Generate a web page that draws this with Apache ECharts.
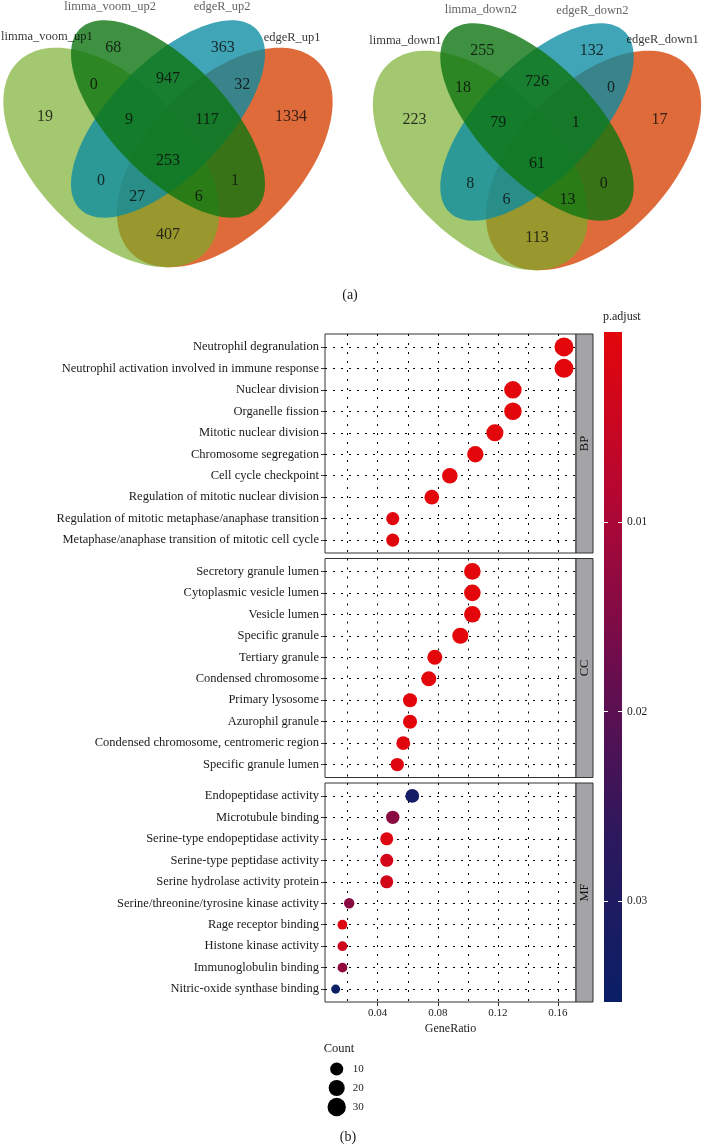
<!DOCTYPE html>
<html>
<head>
<meta charset="UTF-8">
<title>Venn + GO dot plot</title>
<script src="https://cdn.jsdelivr.net/npm/echarts@6/dist/echarts.min.js"></script>
<style>
  html, body { margin: 0; padding: 0; background: #fff; }
  #main { width: 703px; height: 1145px; }
</style>
</head>
<body>
<div id="main"></div>
<script>
// ---------- data: Venn region counts ----------
// region keys: A = set1, B = set2, C = set3, D = set4
var vennRegions = ['A', 'B', 'C', 'D', 'AB', 'AC', 'AD', 'BC', 'BD', 'CD', 'ABC', 'ABD', 'ACD', 'BCD', 'ABCD'];
var upSets = ['limma_voom_up1', 'limma_voom_up2', 'edgeR_up2', 'edgeR_up1'];
var upCounts = [19, 68, 363, 1334, 0, 0, 407, 947, 1, 32, 9, 6, 27, 117, 253];
var downSets = ['limma_down1', 'limma_down2', 'edgeR_down2', 'edgeR_down1'];
var downCounts = [223, 255, 132, 17, 18, 8, 113, 726, 0, 0, 79, 13, 6, 1, 61];

// ---------- data: GO enrichment ----------
var bpTerms = ['Neutrophil degranulation', 'Neutrophil activation involved in immune response', 'Nuclear division',
  'Organelle fission', 'Mitotic nuclear division', 'Chromosome segregation', 'Cell cycle checkpoint',
  'Regulation of mitotic nuclear division', 'Regulation of mitotic metaphase/anaphase transition',
  'Metaphase/anaphase transition of mitotic cell cycle'];
var bpRatio = [0.164, 0.164, 0.130, 0.130, 0.118, 0.105, 0.088, 0.076, 0.050, 0.050];
var bpCount = [33, 33, 26, 26, 24, 21, 18, 15, 10, 10];
var bpPadj = [1e-10, 1e-10, 1e-8, 1e-8, 5e-8, 1e-7, 2e-6, 4e-5, 6e-4, 6e-4];

var ccTerms = ['Secretory granule lumen', 'Cytoplasmic vesicle lumen', 'Vesicle lumen', 'Specific granule',
  'Tertiary granule', 'Condensed chromosome', 'Primary lysosome', 'Azurophil granule',
  'Condensed chromosome, centromeric region', 'Specific granule lumen'];
var ccRatio = [0.103, 0.103, 0.103, 0.095, 0.078, 0.074, 0.0615, 0.0615, 0.057, 0.053];
var ccCount = [22, 22, 22, 20, 16, 16, 13, 13, 12, 11];
var ccPadj = [1e-8, 1e-8, 1e-8, 1e-7, 3e-6, 1e-5, 1e-4, 1e-4, 4e-4, 1e-3];

var mfTerms = ['Endopeptidase activity', 'Microtubule binding', 'Serine-type endopeptidase activity',
  'Serine-type peptidase activity', 'Serine hydrolase activity protein', 'Serine/threonine/tyrosine kinase activity',
  'Rage receptor binding', 'Histone kinase activity', 'Immunoglobulin binding', 'Nitric-oxide synthase binding'];
var mfRatio = [0.063, 0.050, 0.046, 0.046, 0.046, 0.021, 0.0165, 0.0165, 0.0165, 0.012];
var mfCount = [12, 11, 10, 10, 10, 4, 3, 3, 3, 2];
var mfPadj = [0.033, 0.014, 0.001, 0.003, 0.003, 0.014, 0.001, 0.004, 0.013, 0.0353];

var xMajorTicks = [0.04, 0.08, 0.12, 0.16];
var xMinorTicks = [0.02, 0.06, 0.10, 0.14];
var padjTicks = [0.01, 0.02, 0.03];
var countBreaks = [10, 20, 30];

// ---------- layout / style ----------
var FONT = 'Liberation Serif';
var TXT = '#1a1a1a';
// VennDiagram quad layout: cx, cy, a, b, rotation (deg), in unit coords
var vennEllipses = [[0.35, 0.47, 0.35, 0.20, 135], [0.50, 0.57, 0.33, 0.15, 135],
  [0.50, 0.57, 0.33, 0.15, 45], [0.65, 0.47, 0.35, 0.20, 45]];
var vennFill = ['#78ae2b', '#0e7610', '#0a8ca2', '#e06b3a'];
var vennAlpha = [0.68, 0.8, 0.78, 1];
var vennDrawOrder = [3, 0, 2, 1];
var regionPos = {
  A: [0.175, 0.575], B: [0.355, 0.755], C: [0.645, 0.755], D: [0.825, 0.575],
  AB: [0.304, 0.658], CD: [0.696, 0.658], BC: [0.5, 0.674], ABC: [0.397, 0.569],
  BCD: [0.603, 0.569], ABCD: [0.5, 0.461], AC: [0.323, 0.41], BD: [0.677, 0.41],
  ACD: [0.419, 0.368], ABD: [0.581, 0.368], AD: [0.5, 0.269]
};
var upLabelPos = [[0.18, 0.783], [0.347, 0.861], [0.643, 0.861], [0.828, 0.780]];
var downLabelPos = [[0.151, 0.780], [0.351, 0.861], [0.647, 0.858], [0.833, 0.783]];

var PANEL_LEFT = 325, PANEL_W = 251, PANEL_H = 219, STRIP_W = 17;
var panelTops = [334, 558.5, 783];
var X_MIN = 0.0049, X_MAX = 0.172;
var P_MAX = 0.0353;
var padjColors = ['#e3060b', '#b30733', '#6b0d4d', '#2d185d', '#0a1f66'];

function dotSize(count) { return 5.8 + 2.3 * Math.sqrt(count); }

var dottedH = { color: '#000', width: 1, type: [2, 6] };
var dottedV = { color: '#000', width: 1, type: [2, 7] };

var facets = [
  { name: 'BP', terms: bpTerms, ratio: bpRatio, count: bpCount, padj: bpPadj },
  { name: 'CC', terms: ccTerms, ratio: ccRatio, count: ccCount, padj: ccPadj },
  { name: 'MF', terms: mfTerms, ratio: mfRatio, count: mfCount, padj: mfPadj }
];

var grids = [], xAxes = [], yAxes = [], series = [], graphics = [];

// facet panels (grid 0..2)
facets.forEach(function (f, i) {
  var last = i === facets.length - 1;
  grids.push({ left: PANEL_LEFT, top: panelTops[i], width: PANEL_W, height: PANEL_H,
    show: true, borderColor: '#333', borderWidth: 1, backgroundColor: '#fff' });
  var xi = xAxes.length;
  xAxes.push({ gridIndex: i, type: 'value', min: X_MIN, max: X_MAX, position: 'bottom',
    axisLine: { show: false },
    axisTick: { show: last, customValues: xMajorTicks, length: 4, lineStyle: { color: '#333' } },
    axisLabel: { show: last, customValues: xMajorTicks, margin: 6, color: TXT, fontFamily: FONT, fontSize: 11,
      formatter: function (v) { return v.toFixed(2); } },
    splitLine: { show: true, lineStyle: dottedV },
    name: last ? 'GeneRatio' : '', nameLocation: 'middle', nameGap: 21,
    nameTextStyle: { color: TXT, fontFamily: FONT, fontSize: 12 } });
  xAxes.push({ gridIndex: i, type: 'value', min: X_MIN, max: X_MAX, position: 'top',
    axisLine: { show: false }, axisTick: { show: false, customValues: xMinorTicks },
    axisLabel: { show: false }, splitLine: { show: true, lineStyle: dottedV } });
  var rows = f.terms.map(function (t, k) { return k + 1; });
  var yi = yAxes.length;
  yAxes.push({ gridIndex: i, type: 'value', inverse: true, min: 0.4, max: 10.6,
    axisLine: { show: false },
    axisTick: { show: true, length: 4, customValues: rows, lineStyle: { color: '#333' } },
    axisLabel: { customValues: rows, margin: 6, color: TXT, fontFamily: FONT, fontSize: 12.5,
      formatter: function (v) { return f.terms[Math.round(v) - 1]; } },
    splitLine: { show: true, lineStyle: dottedH } });
  series.push({ type: 'scatter', xAxisIndex: xi, yAxisIndex: yi, z: 5,
    data: f.ratio.map(function (r, k) { return [r, k + 1, f.count[k], f.padj[k]]; }),
    symbolSize: function (v) { return dotSize(v[2]); },
    itemStyle: { opacity: 1 } });
  // strip
  var top = panelTops[i];
  graphics.push({ type: 'rect', shape: { x: PANEL_LEFT + PANEL_W, y: top, width: STRIP_W, height: PANEL_H },
    style: { fill: '#a4a4a6', stroke: '#333', lineWidth: 1 } });
  graphics.push({ type: 'text', x: PANEL_LEFT + PANEL_W + STRIP_W / 2 + 0.5, y: top + PANEL_H / 2, rotation: Math.PI / 2,
    style: { text: f.name, fill: '#111', font: '12.5px ' + FONT, align: 'center', verticalAlign: 'middle' } });
});

// Venn diagrams
function addVenn(left, top, sets, counts, labelPos) {
  var g = grids.length;
  grids.push({ left: left, top: top, width: 333, height: 258 });
  var xi = xAxes.length, yi = yAxes.length;
  xAxes.push({ gridIndex: g, type: 'value', min: 0.06, max: 0.94, show: false });
  yAxes.push({ gridIndex: g, type: 'value', min: 0.17, max: 0.84, show: false });
  series.push({ type: 'custom', xAxisIndex: xi, yAxisIndex: yi, silent: true, z: 1,
    data: vennDrawOrder.map(function (s) { return [s]; }),
    renderItem: function (params, api) {
      var s = api.value(0);
      var e = vennEllipses[s];
      var t = e[4] * Math.PI / 180;
      var pts = [];
      for (var k = 0; k < 144; k++) {
        var u = k / 144 * 2 * Math.PI;
        var ex = e[2] * Math.cos(u), ey = e[3] * Math.sin(u);
        pts.push(api.coord([e[0] + ex * Math.cos(t) - ey * Math.sin(t), e[1] + ex * Math.sin(t) + ey * Math.cos(t)]));
      }
      return { type: 'polygon', shape: { points: pts }, style: { fill: vennFill[s], opacity: vennAlpha[s] } };
    } });
  series.push({ type: 'scatter', xAxisIndex: xi, yAxisIndex: yi, silent: true, clip: false, z: 3,
    symbolSize: 0,
    data: vennRegions.map(function (r, k) { return { name: String(counts[k]), value: regionPos[r] }; }),
    label: { show: true, position: 'inside', formatter: '{b}', color: '#0a0a0a', fontFamily: FONT, fontSize: 16 } });
  series.push({ type: 'scatter', xAxisIndex: xi, yAxisIndex: yi, silent: true, clip: false, z: 3,
    symbolSize: 0,
    data: sets.map(function (s, k) {
      return { name: s, value: labelPos[k],
        label: { color: (k === 0 || k === 3) ? '#000' : '#3a3a3a' } };
    }),
    label: { show: true, position: 'inside', formatter: '{b}', fontFamily: FONT, fontSize: 12.5 } });
}
addVenn(1.5, 15, upSets, upCounts, upLabelPos);
addVenn(371, 18, downSets, downCounts, downLabelPos);

// colour bar
var cg = grids.length;
grids.push({ left: 604, top: 332, width: 18, height: 670 });
var cxi = xAxes.length;
xAxes.push({ gridIndex: cg, type: 'category', data: [''], show: false });
var cyi = yAxes.length;
yAxes.push({ gridIndex: cg, type: 'value', min: 0, max: P_MAX, inverse: true, position: 'left', z: 10,
  axisLine: { show: false }, splitLine: { show: false }, axisLabel: { show: false },
  axisTick: { show: true, inside: true, length: 4, customValues: padjTicks, lineStyle: { color: '#fff', width: 1 } } });
yAxes.push({ gridIndex: cg, type: 'value', min: 0, max: P_MAX, inverse: true, position: 'right', z: 10,
  axisLine: { show: false }, splitLine: { show: false },
  axisTick: { show: true, inside: true, length: 4, customValues: padjTicks, lineStyle: { color: '#fff', width: 1 } },
  axisLabel: { customValues: padjTicks, margin: 5, color: TXT, fontFamily: FONT, fontSize: 11.5,
    formatter: function (v) { return v.toFixed(2); } } });
series.push({ type: 'bar', xAxisIndex: cxi, yAxisIndex: cyi, barWidth: '100%', silent: true, z: 1,
  data: [P_MAX],
  itemStyle: { color: new echarts.graphic.LinearGradient(0, 0, 0, 1, padjColors.map(function (c, k) {
    return { offset: k / (padjColors.length - 1), color: c };
  })) } });

// size legend
var lg = grids.length;
grids.push({ left: 326.7, top: 1059.5, width: 20, height: 57 });
var lxi = xAxes.length, lyi = yAxes.length;
xAxes.push({ gridIndex: lg, type: 'value', min: 0, max: 1, show: false });
yAxes.push({ gridIndex: lg, type: 'value', min: 5, max: 35, inverse: true, show: false });
series.push({ type: 'scatter', xAxisIndex: lxi, yAxisIndex: lyi, silent: true,
  data: countBreaks.map(function (c) { return [0.5, c, c]; }),
  symbolSize: function (v) { return dotSize(v[2]); },
  itemStyle: { color: '#000', opacity: 1 },
  label: { show: true, position: 'inside', align: 'left', offset: [16, 0], color: TXT, fontFamily: FONT, fontSize: 11,
    formatter: function (p) { return String(p.value[2]); } } });

graphics.push({ type: 'text', x: 339, y: 1049, style: { text: 'Count', fill: TXT, font: '12.5px ' + FONT, align: 'center', verticalAlign: 'middle' } });
graphics.push({ type: 'text', x: 603, y: 317, style: { text: 'p.adjust', fill: TXT, font: '12px ' + FONT, align: 'left', verticalAlign: 'middle' } });
graphics.push({ type: 'text', x: 350, y: 295, style: { text: '(a)', fill: TXT, font: '14px ' + FONT, align: 'center', verticalAlign: 'middle' } });
graphics.push({ type: 'text', x: 348, y: 1137, style: { text: '(b)', fill: TXT, font: '14px ' + FONT, align: 'center', verticalAlign: 'middle' } });

var chart = echarts.init(document.getElementById('main'));
chart.setOption({
  backgroundColor: '#fff',
  animation: false,
  grid: grids,
  xAxis: xAxes,
  yAxis: yAxes,
  visualMap: {
    type: 'continuous', show: false, min: 0, max: P_MAX, dimension: 3, seriesIndex: [0, 1, 2],
    inRange: { color: padjColors }
  },
  graphic: graphics,
  series: series
});
</script>
</body>
</html>
